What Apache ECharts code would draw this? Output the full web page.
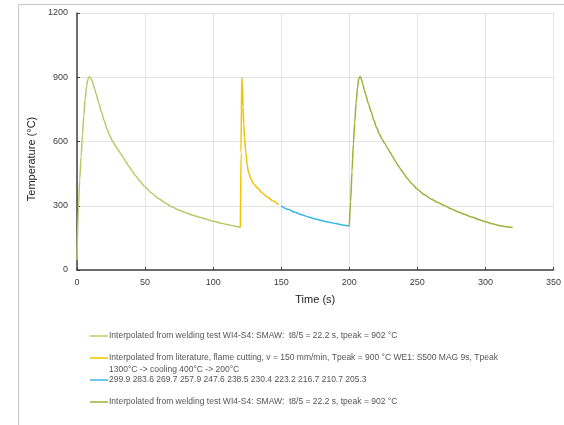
<!DOCTYPE html>
<html>
<head>
<meta charset="utf-8">
<script src="https://cdn.jsdelivr.net/npm/echarts@6/dist/echarts.min.js"></script>
<style>
html,body{margin:0;padding:0;background:#fff;}
#c{width:564px;height:425px;}
</style>
</head>
<body>
<div id="c"></div>
<script>
// ---- data ----
const xTicks = [0, 50, 100, 150, 200, 250, 300, 350];
const yTicks = [0, 300, 600, 900, 1200];

const s1Name = 'Interpolated from welding test WI4-S4: SMAW:  t8/5 = 22.2 s, tpeak = 902 °C';
const s1Time = [0, 1, 2, 3, 4, 5, 6, 7, 8, 9, 10, 11, 12, 13, 14, 16, 18, 20, 22, 24, 26, 28, 30, 32, 34, 36, 38, 40, 43, 46, 50, 55, 60, 65, 70, 75, 80, 85, 90, 95, 100, 105, 110, 115, 120];
const s1Temp = [47, 290, 420, 530, 630, 720, 800, 858, 890, 902, 898, 885, 866, 845, 823, 780, 737, 697, 660, 628, 603, 582, 563, 544, 525, 505, 485, 466, 440, 416, 388, 358, 333, 312, 294, 279, 267, 256, 246, 237, 228, 220, 213, 206, 200];

const s2NameLine1 = 'Interpolated from literature, flame cutting, v = 150 mm/min, Tpeak = 900 °C WE1: S500 MAG 9s, Tpeak';
const s2NameLine2 = '1300°C -> cooling 400°C -> 200°C';
const s2Time = [120, 120.5, 121, 121.5, 122, 122.5, 123, 124, 125, 126, 128, 130, 133, 136, 140, 144, 148];
const s2Temp = [200, 550, 900, 860, 760, 680, 620, 550, 490, 455, 422, 400, 380, 360, 340, 322, 305];

const s3Time = [150, 155, 160, 165, 170, 175, 180, 185, 190, 195, 200];
const s3Temp = [299.9, 283.6, 269.7, 257.9, 247.6, 238.5, 230.4, 223.2, 216.7, 210.7, 205.3];

const s4Name = 'Interpolated from welding test WI4-S4: SMAW:  t8/5 = 22.2 s, tpeak = 902 °C ';
const s4Time = [200, 201, 202, 203, 204, 205, 206, 207, 208, 209, 210, 211, 212, 214, 216, 218, 220, 222, 224, 226, 228, 230, 232, 234, 236, 238, 240, 243, 246, 250, 255, 260, 265, 270, 275, 280, 285, 290, 295, 300, 305, 310, 315, 320];
const s4Temp = [205, 320, 460, 590, 690, 780, 850, 893, 903, 890, 866, 842, 820, 778, 740, 700, 666, 636, 612, 592, 570, 550, 528, 507, 487, 468, 450, 425, 403, 377, 352, 332, 315, 300, 285, 271, 259, 247, 236, 225, 216, 208, 202, 198];

const colors = ['#b7ca6b', '#f2c300', '#3db6e3', '#9db03a'];

// ---- build ----
const zip = (a, b) => a.map((v, i) => [v, b[i]]);
const s2Name = s2NameLine1 + ' ' + s2NameLine2;
const s3Name = s3Temp.join(' ');

const FONT = 'Liberation Sans, Arial, sans-serif';
const chart = echarts.init(document.getElementById('c'), null, {renderer: 'canvas'});

function mkSeries(name, t, v, color) {
  return {
    name: name, type: 'line', data: zip(t, v),
    showSymbol: false, symbol: 'none', smooth: 0.25, smoothMonotone: 'x',
    lineStyle: {color: color, width: 1.5}, itemStyle: {color: color},
    emphasis: {disabled: true}
  };
}

chart.setOption({
  animation: false,
  backgroundColor: '#ffffff',
  grid: {left: 77, right: 9, top: 13, bottom: 155, containLabel: false},
  xAxis: {
    type: 'value', min: xTicks[0], max: xTicks[xTicks.length - 1], interval: 50,
    name: 'Time (s)', nameLocation: 'middle', nameGap: 24,
    nameTextStyle: {color: '#222', fontSize: 11, fontFamily: FONT},
    axisLine: {show: true, lineStyle: {color: '#404040', width: 1.5}},
    axisTick: {show: true, inside: true, length: 3, lineStyle: {color: '#404040'}},
    axisLabel: {color: '#404040', fontSize: 9, fontFamily: FONT, margin: 8,
                formatter: function (v) { return String(v); }},
    splitLine: {show: true, lineStyle: {color: '#e3e3e3', width: 1}}
  },
  yAxis: {
    type: 'value', min: yTicks[0], max: yTicks[yTicks.length - 1], interval: 300,
    name: 'Temperature (°C)', nameLocation: 'middle', nameGap: 31,
    nameTextStyle: {color: '#222', fontSize: 11, fontFamily: FONT, padding: [0, 35, 0, 0]},
    axisLine: {show: true, lineStyle: {color: '#404040', width: 1.5}},
    axisTick: {show: true, inside: true, length: 3, lineStyle: {color: '#404040'}},
    axisLabel: {color: '#404040', fontSize: 9, fontFamily: FONT, margin: 9,
                formatter: function (v) { return String(v); }},
    splitLine: {show: true, lineStyle: {color: '#e3e3e3', width: 1}}
  },
  legend: {
    orient: 'vertical', left: 85, top: 326, itemGap: 12,
    icon: 'rect', itemWidth: 18, itemHeight: 1.5,
    data: [s1Name, s2Name, s3Name, s4Name],
    formatter: function (n) { return n === s2Name ? s2NameLine1 : n; },
    textStyle: {color: '#555', fontSize: 8.5, fontFamily: FONT, lineHeight: 10, padding: [0, 0, 0, -4]},
    selectedMode: false
  },
  graphic: [
    {type: 'rect', silent: true, z: -1,
     shape: {x: 18.5, y: 4.5, width: 700, height: 600},
     style: {fill: 'none', stroke: '#c8c8c8', lineWidth: 1}},
    {type: 'text', left: 109, top: 365, silent: true,
     style: {text: s2NameLine2, fill: '#555', font: '8.5px ' + FONT}}
  ],
  series: [
    mkSeries(s1Name, s1Time, s1Temp, colors[0]),
    mkSeries(s2Name, s2Time, s2Temp, colors[1]),
    mkSeries(s3Name, s3Time, s3Temp, colors[2]),
    mkSeries(s4Name, s4Time, s4Temp, colors[3])
  ]
});
</script>
</body>
</html>
